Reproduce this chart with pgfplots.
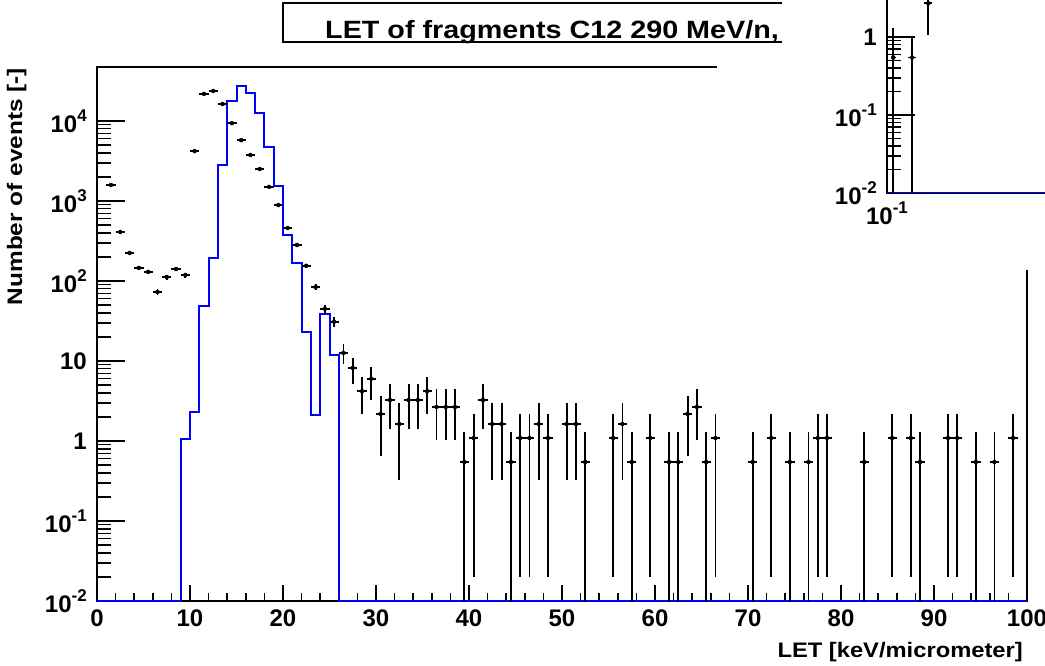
\documentclass[border=0pt]{standalone}
\usepackage{fontspec}
\setmainfont{Liberation Sans}
\usepackage{graphicx}
\usepackage{pgfplots}
\pgfplotsset{compat=1.18}
\usepackage{pgfplotstable}

\newcommand{\tp}[1]{10\raisebox{11pt}{\fontsize{17}{17}\selectfont #1}}
\newcommand{\tf}{\fontsize{24}{24}\selectfont\bfseries}

\pgfplotstableread{
x ex y ep em
1.5 0.5 1585 31 31
2.5 0.5 410 16 16
3.5 0.5 224 12 12
4.5 0.5 146 9.5 9.5
5.5 0.5 130 9 9
6.5 0.5 73 7 7
7.5 0.5 112 8 8
8.5 0.5 141 9 9
9.5 0.5 119 8.5 8.5
10.5 0.5 4200 50 50
11.5 0.5 21800 115 115
12.5 0.5 23700 120 120
13.5 0.5 16300 100 100
14.5 0.5 9400 75 75
15.5 0.5 5760 60 60
16.5 0.5 3760 47 47
17.5 0.5 2510 39 39
18.5 0.5 1500 30 30
19.5 0.5 890 23 23
20.5 0.5 460 17 17
21.5 0.5 282 13 13
22.5 0.5 155 10 10
23.5 0.5 84 7 7
24.5 0.5 45 5.5 5.5
25.5 0.5 31 4.5 4.5
26.5 0.5 12.6 3.7 3.4
27.5 0.5 8.2 2.7 3.0
28.5 0.5 4.2 2.1 2.02
29.5 0.5 6.0 2.5 2.7
30.5 0.5 2.18 1.47 1.53
31.5 0.5 3.25 1.91 1.84
32.5 0.5 1.63 1.35 1.30
33.5 0.5 3.25 1.91 1.84
34.5 0.5 3.25 1.91 1.84
35.5 0.5 4.2 2.1 2.02
36.5 0.5 2.66 1.81 1.63
37.5 0.5 2.66 1.81 1.63
38.5 0.5 2.66 1.81 1.63
39.5 0.5 0.546 0.75 0.545
40.5 0.5 1.09 1.09 1.07
41.5 0.5 3.25 1.91 1.84
42.5 0.5 1.63 1.35 1.30
43.5 0.5 1.63 1.35 1.30
44.5 0.5 0.546 0.75 0.545
45.5 0.5 1.09 1.09 1.07
46.5 0.5 1.09 1.09 1.07
47.5 0.5 1.63 1.35 1.30
48.5 0.5 1.09 1.09 1.07
50.5 0.5 1.63 1.35 1.30
51.5 0.5 1.63 1.35 1.30
52.5 0.5 0.546 0.75 0.545
55.5 0.5 1.09 1.09 1.07
56.5 0.5 1.63 1.35 1.30
57.5 0.5 0.546 0.75 0.545
59.5 0.5 1.09 1.09 1.07
61.5 0.5 0.546 0.75 0.545
62.5 0.5 0.546 0.75 0.545
63.5 0.5 2.18 1.47 1.53
64.5 0.5 2.66 1.81 1.63
65.5 0.5 0.546 0.75 0.545
66.5 0.5 1.09 1.09 1.07
70.5 0.5 0.546 0.75 0.545
72.5 0.5 1.09 1.09 1.07
74.5 0.5 0.546 0.75 0.545
76.5 0.5 0.546 0.75 0.545
77.5 0.5 1.09 1.09 1.07
78.5 0.5 1.09 1.09 1.07
82.5 0.5 0.546 0.75 0.545
85.5 0.5 1.09 1.09 1.07
87.5 0.5 1.09 1.09 1.07
88.5 0.5 0.546 0.75 0.545
91.5 0.5 1.09 1.09 1.07
92.5 0.5 1.09 1.09 1.07
94.5 0.5 0.546 0.75 0.545
96.5 0.5 0.546 0.75 0.545
98.5 0.5 1.09 1.09 1.07
}\pts

\pgfplotstableread{
x y
0 0.0101
9 1.05
10 2.3
11 49
12 194
13 2820
14 17800
15 27300
16 22400
17 12600
18 4730
19 1540
20 376
21 168
22 23
23 2.1
24 39
25 11.9
26 0.0101
100 0.0101
}\hist

\pgfplotstableread{
x ex y ep em
0.107 0.003 0.546 0.75 0.545
0.131 0.005 0.546 0.48 0.545
0.156 0.007 2.7 1.8 1.65
}\inpts

\pgfplotstableread{
x y
0.1 0.0101
10 0.0101
}\inhist

\pgfplotsset{
  rootax/.style={
    scale only axis,
    axis line style={line width=1.8pt},
    tick style={line width=1.5pt, black},
    tick align=inside, tick pos=left,
    major tick length=28pt, minor tick length=14pt,
    every major x tick/.append style={/pgfplots/major tick length=16pt},
    every minor x tick/.append style={/pgfplots/minor tick length=8pt},
    xticklabel style={font=\tf, anchor=north, inner sep=0pt, yshift=-9pt},
    yticklabel style={font=\tf, anchor=east, inner sep=0pt, xshift=-10pt},
  },
  ebars/.style={only marks, mark=none, black,
    error bars/.cd, x dir=both, x explicit, y dir=both, y explicit,
    error mark=none, error bar style={line width=1.9pt, black}},
}

\begin{document}
\begin{tikzpicture}
\useasboundingbox (0pt,0pt) rectangle (1045pt,665pt);
\clip (0pt,0pt) rectangle (1045pt,665pt);
\begin{axis}[rootax,
  at={(97pt,64pt)}, anchor=south west,
  width=930pt, height=534pt,
  xmin=0, xmax=100, ymode=log, ymin=0.01, ymax=47300,
  xtick={0,10,...,100},
  xticklabels={0,10,20,30,40,50,60,70,80,90,100},
  minor x tick num=4,
  ytick={0.01,0.1,1,10,100,1000,10000},
  yticklabels={\tp{-2},\tp{-1},1,10,\tp{2},\tp{3},\tp{4}},
]
\addplot[const plot, draw=blue, line width=2pt] table[x=x,y=y] {\hist};
\addplot[ebars] table[x=x, y=y, x error=ex, y error plus=ep, y error minus=em] {\pts};
\end{axis}
\fill[white] (716.5pt,395pt) rectangle (1046pt,666pt);
\draw[line width=1.5pt] (782pt,662pt) -- (283pt,662pt) -- (283pt,623pt) -- (782pt,623pt);
\node[anchor=base west, inner sep=0pt] at (325pt,626pt)
  {\fontsize{25}{25}\selectfont\bfseries\scalebox{1.15}[1]{LET of fragments C12 290 MeV/n,}};
\node[anchor=base east, inner sep=0pt] at (1023pt,8pt)
  {\fontsize{21}{21}\selectfont\bfseries\scalebox{1.13}[1]{LET [keV/micrometer]}};
\node[rotate=90, anchor=base east, inner sep=0pt] at (22pt,597pt)
  {\fontsize{21}{21}\selectfont\bfseries\scalebox{1.16}[1]{Number of events [-]}};
\begin{axis}[rootax,
  at={(887pt,472pt)}, anchor=south west,
  width=420pt, height=234pt,
  xmode=log, ymode=log, xmin=0.1, xmax=9.18, ymin=0.01, ymax=10,
  xtick={0.1}, xticklabels={\tp{-1}},
  ytick={0.01,0.1,1}, yticklabels={\tp{-2},\tp{-1},1},
]
\addplot[draw=blue, line width=2pt] table[x=x,y=y] {\inhist};
\addplot[ebars] table[x=x, y=y, x error=ex, y error plus=ep, y error minus=em] {\inpts};
\end{axis}
\end{tikzpicture}
\end{document}
